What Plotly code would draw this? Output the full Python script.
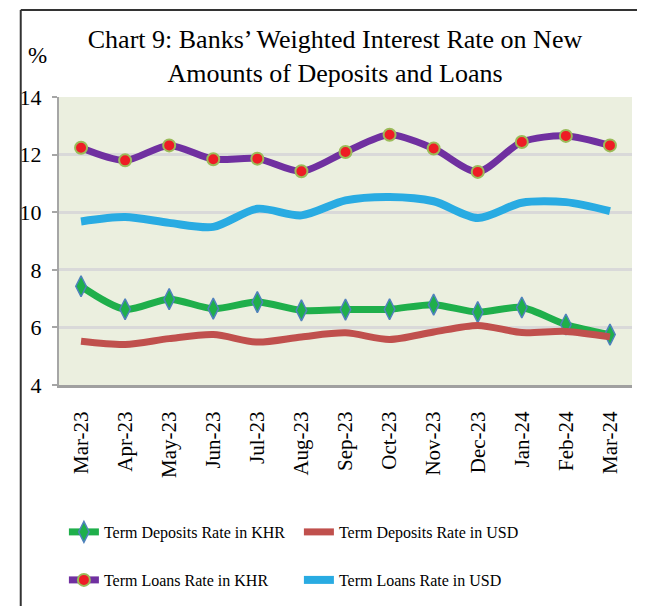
import plotly.graph_objects as go

months = ["Mar-23", "Apr-23", "May-23", "Jun-23", "Jul-23", "Aug-23", "Sep-23",
          "Oct-23", "Nov-23", "Dec-23", "Jan-24", "Feb-24", "Mar-24"]

dep_khr = [7.43, 6.63, 6.98, 6.65, 6.88, 6.59, 6.62, 6.63, 6.79, 6.53, 6.69, 6.10, 5.75]
dep_usd = [5.52, 5.41, 5.61, 5.75, 5.49, 5.67, 5.81, 5.58, 5.84, 6.07, 5.82, 5.86, 5.67]
loan_khr = [12.24, 11.80, 12.32, 11.84, 11.86, 11.42, 12.09, 12.69, 12.21, 11.40, 12.44, 12.65, 12.32]
loan_usd = [9.68, 9.83, 9.63, 9.49, 10.12, 9.89, 10.41, 10.53, 10.38, 9.80, 10.33, 10.35, 10.04]

# page has an 8px body margin, so layout positions are given in page pixels and shifted
OFF = 8
W, H = 645, 606
L, R, T, B = 40, 21, 89, 229
pw, ph = W - L - R, H - T - B


def px_x(x):
    return (x - OFF - L) / pw


def px_y(y):
    return (H - B - (y - OFF)) / ph


serif = "Liberation Serif, Times New Roman, serif"

fig = go.Figure()
fig.add_trace(go.Scatter(
    x=months, y=dep_khr, name="Term Deposits Rate in KHR", mode="lines+markers",
    line=dict(color="#1FAF4B", width=7, shape="spline", smoothing=0.8),
    marker=dict(symbol="diamond-tall", size=15, color="#1FAF4B",
                line=dict(color="#4F81BD", width=1.5)),
    legend="legend"))
fig.add_trace(go.Scatter(
    x=months, y=dep_usd, name="Term Deposits Rate in USD", mode="lines",
    line=dict(color="#C0504D", width=7, shape="spline", smoothing=0.8),
    legend="legend"))
fig.add_trace(go.Scatter(
    x=months, y=loan_khr, name="Term Loans Rate in KHR", mode="lines+markers",
    line=dict(color="#7030A0", width=7, shape="spline", smoothing=0.8),
    marker=dict(symbol="circle", size=12, color="#EE1C25",
                line=dict(color="#9BBB59", width=2)),
    legend="legend2"))
fig.add_trace(go.Scatter(
    x=months, y=loan_usd, name="Term Loans Rate in USD", mode="lines",
    line=dict(color="#29ABE2", width=8, shape="spline", smoothing=0.8),
    legend="legend2"))

legend_common = dict(orientation="h", xanchor="left", yanchor="middle",
                     entrywidth=190, font=dict(family=serif, size=16, color="black"),
                     bgcolor="rgba(0,0,0,0)", itemwidth=30)

fig.update_layout(
    width=W, height=H,
    margin=dict(l=L, r=R, t=T, b=B),
    paper_bgcolor="white", plot_bgcolor="#EBEFDF",
    title=dict(text="Chart 9: Banks’ Weighted Interest Rate on New<br>Amounts of Deposits and Loans",
               x=(335 - OFF) / W, xanchor="center", xref="container",
               y=1 - 40 / H, yanchor="middle", yref="container",
               font=dict(family=serif, size=26, color="black")),
    legend=dict(x=px_x(53), y=px_y(532), **legend_common),
    legend2=dict(x=px_x(53), y=px_y(580), **legend_common),
    showlegend=True,
    annotations=[dict(text="%", x=px_x(26), y=px_y(56), xref="paper", yref="paper",
                      xanchor="center", yanchor="middle", showarrow=False,
                      font=dict(family=serif, size=23, color="black"))],
    shapes=[
        dict(type="line", xref="paper", yref="paper", x0=px_x(9), x1=px_x(W + 20),
             y0=px_y(10), y1=px_y(10), line=dict(color="#333333", width=2)),
        dict(type="line", xref="paper", yref="paper", x0=px_x(9), x1=px_x(9),
             y0=px_y(10), y1=px_y(H + 20), line=dict(color="#333333", width=2)),
    ],
)

fig.update_xaxes(
    type="category", range=[-0.5, 12.5], showgrid=False,
    showline=True, linecolor="#A0A0A0", linewidth=3,
    tickangle=-90, ticks="", ticklabelstandoff=15,
    tickfont=dict(family=serif, size=21, color="black"))
fig.update_yaxes(
    range=[4, 14], dtick=2, showgrid=True, gridcolor="#D9D9D9", gridwidth=3,
    zeroline=False, showline=True, linecolor="#A6A6A6", linewidth=2,
    ticks="outside", ticklen=5, tickcolor="#A6A6A6", tickwidth=2, ticklabelstandoff=6,
    tickfont=dict(family=serif, size=22, color="black"))

fig.write_html("out.html")
